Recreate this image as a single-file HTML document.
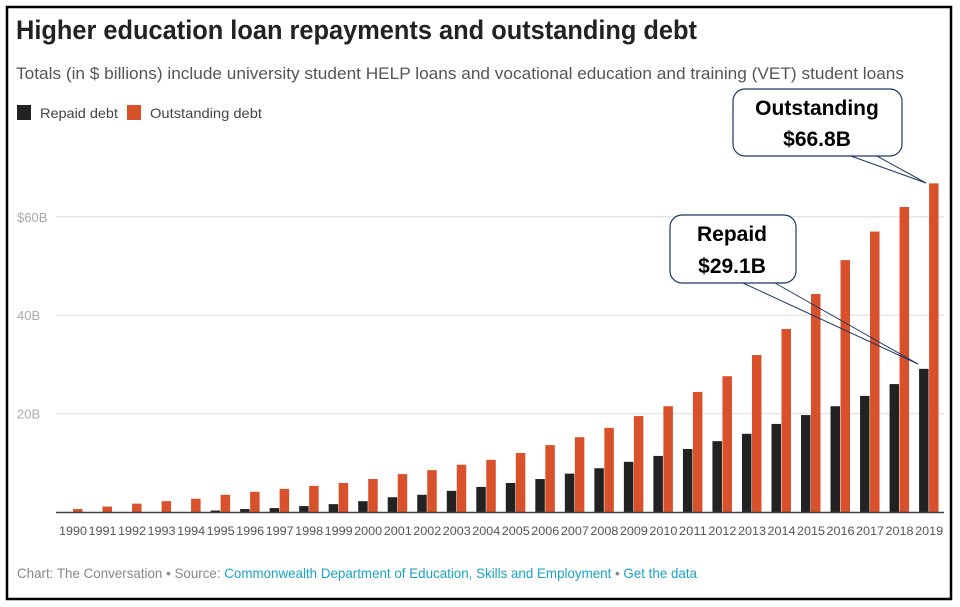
<!DOCTYPE html>
<html><head><meta charset="utf-8"><style>
html,body{margin:0;padding:0;background:#fff;}
svg{display:block;font-family:"Liberation Sans",sans-serif;}
</style></head><body>
<svg id="chart" width="960" height="607" viewBox="0 0 960 607">
<rect x="7" y="7" width="944" height="592" fill="#fff" stroke="#000" stroke-width="2.5"/>
<text x="16" y="39" font-size="27" font-weight="bold" fill="#222" textLength="681" lengthAdjust="spacingAndGlyphs">Higher education loan repayments and outstanding debt</text>
<text x="16" y="79" font-size="16.5" fill="#555" textLength="888" lengthAdjust="spacingAndGlyphs">Totals (in $ billions) include university student HELP loans and vocational education and training (VET) student loans</text>
<g>
<rect x="17" y="105" width="14" height="15" fill="#222"/>
<text x="40" y="118" font-size="14" fill="#444" textLength="78" lengthAdjust="spacingAndGlyphs">Repaid debt</text>
<rect x="127" y="105" width="14" height="15" fill="#d9512a"/>
<text x="150" y="118" font-size="14" fill="#444" textLength="112" lengthAdjust="spacingAndGlyphs">Outstanding debt</text>
</g>
<g id="grid"></g>
<g id="bars"></g>
<g id="xlabels"></g>
<line x1="56" y1="512.5" x2="944" y2="512.5" stroke="#444" stroke-width="1.5"/>
<text x="17" y="578" font-size="14" fill="#888" textLength="680" lengthAdjust="spacingAndGlyphs">Chart: The Conversation • Source: <tspan fill="#1aa3c7">Commonwealth Department of Education, Skills and Employment</tspan> • <tspan fill="#1aa3c7">Get the data</tspan></text>
<g>
<line x1="875" y1="155" x2="926" y2="183" stroke="#1f3864" stroke-width="1"/>
<line x1="848" y1="155" x2="926" y2="183" stroke="#1f3864" stroke-width="1"/>
<rect x="733" y="89" width="169" height="67" rx="12" fill="#fff" stroke="#1f3864" stroke-width="1.2"/>
<text x="817" y="115" font-size="21" font-weight="bold" text-anchor="middle" fill="#000">Outstanding</text>
<text x="817" y="146" font-size="21" font-weight="bold" text-anchor="middle" fill="#000">$66.8B</text>
</g>
<g>
<line x1="743" y1="283" x2="918" y2="364" stroke="#1f3864" stroke-width="1"/>
<line x1="775" y1="283" x2="918" y2="364" stroke="#1f3864" stroke-width="1"/>
<rect x="670" y="215" width="126" height="68" rx="12" fill="#fff" stroke="#1f3864" stroke-width="1.2"/>
<text x="732" y="241" font-size="21" font-weight="bold" text-anchor="middle" fill="#000">Repaid</text>
<text x="732" y="273" font-size="21" font-weight="bold" text-anchor="middle" fill="#000">$29.1B</text>
</g>
</svg>
<script>
const years=[1990,1991,1992,1993,1994,1995,1996,1997,1998,1999,2000,2001,2002,2003,2004,2005,2006,2007,2008,2009,2010,2011,2012,2013,2014,2015,2016,2017,2018,2019];
const repaid=[0,0,0,0,0,0.3,0.6,0.8,1.2,1.6,2.2,3.0,3.5,4.3,5.1,5.9,6.7,7.8,8.9,10.2,11.4,12.8,14.4,15.9,17.9,19.7,21.5,23.6,26.0,29.1];
const outstanding=[0.6,1.1,1.7,2.2,2.7,3.5,4.1,4.7,5.3,5.9,6.7,7.7,8.5,9.6,10.6,12.0,13.6,15.2,17.1,19.5,21.5,24.4,27.6,31.9,37.2,44.3,51.2,57.0,62.0,66.8];
const yTicks=[20,40,60];
const yTickLabels=["20B","40B","$60B"];
const NS="http://www.w3.org/2000/svg";
const y0=512, pxPer=4.92;
function y(v){return y0-v*pxPer;}
function xc(i){return 73+i*29.52;}
const grid=document.getElementById('grid'),bars=document.getElementById('bars'),xl=document.getElementById('xlabels');
yTicks.forEach((t,i)=>{
 const l=document.createElementNS(NS,'line');
 l.setAttribute('x1',56);l.setAttribute('x2',944);l.setAttribute('y1',y(t));l.setAttribute('y2',y(t));
 l.setAttribute('stroke','#e6e6e6');l.setAttribute('stroke-width','1.5');
 
 
 grid.appendChild(l);
 const tx=document.createElementNS(NS,'text');
 tx.setAttribute('x',17);tx.setAttribute('y',y(t)+5);tx.setAttribute('font-size','13');tx.setAttribute('fill','#aaa');
 tx.textContent=yTickLabels[i];
 
 
 grid.appendChild(tx);
});
years.forEach((yr,i)=>{
 const c=xc(i);
 const r=document.createElementNS(NS,'rect');
 r.setAttribute('x',c-10);r.setAttribute('width',9.5);r.setAttribute('y',y(repaid[i]));r.setAttribute('height',repaid[i]*pxPer);r.setAttribute('fill','#222');
 
 
 bars.appendChild(r);
 const o=document.createElementNS(NS,'rect');
 o.setAttribute('x',c);o.setAttribute('width',9.5);o.setAttribute('y',y(outstanding[i]));o.setAttribute('height',outstanding[i]*pxPer);o.setAttribute('fill','#d9512a');
 
 
 bars.appendChild(o);
 const t=document.createElementNS(NS,'text');
 t.setAttribute('x',c);t.setAttribute('y',535);t.setAttribute('font-size','12');t.setAttribute('fill','#555');t.setAttribute('text-anchor','middle');
 t.setAttribute('textLength','28');t.setAttribute('lengthAdjust','spacingAndGlyphs');
 t.textContent=yr;
 
 
 xl.appendChild(t);
});
</script>
</body></html>
